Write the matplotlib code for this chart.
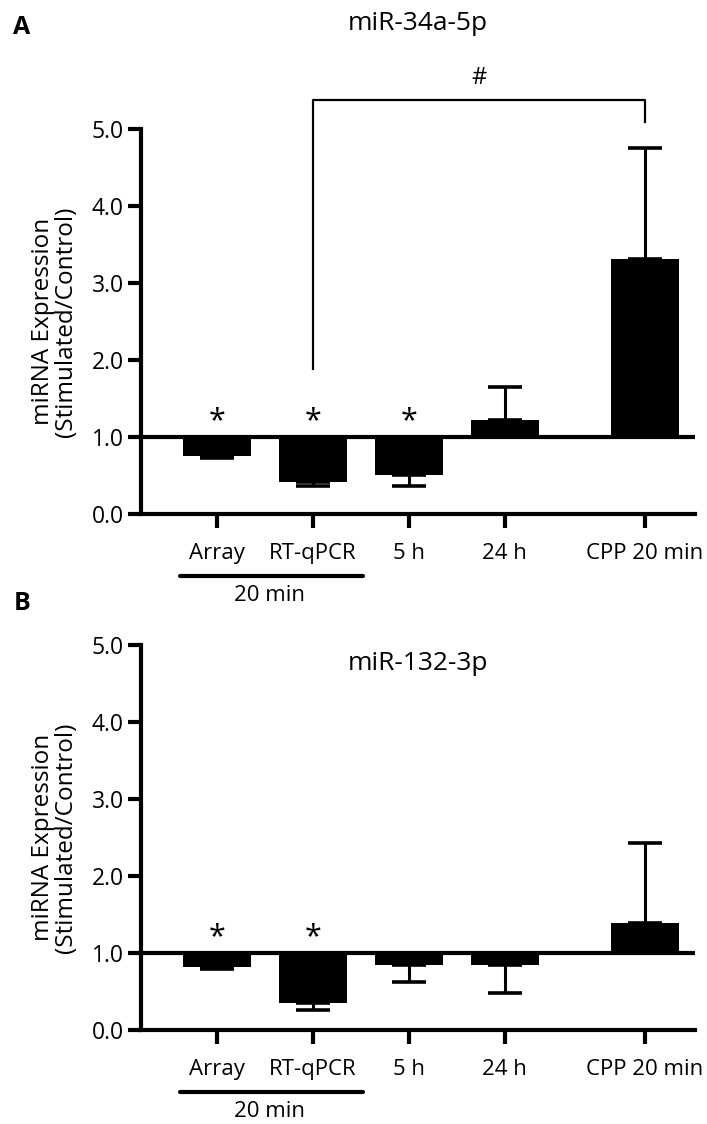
import matplotlib
matplotlib.use("Agg")
import matplotlib.pyplot as plt
import matplotlib.transforms as mtransforms

plt.rcParams['font.family'] = ['Open Sans', 'DejaVu Sans']

# data
groups = ["Array", "RT-qPCR", "5 h", "24 h", "CPP 20 min"]
xpos = [0, 1, 2, 3, 4.46]

mir34_mean = [0.75, 0.41, 0.51, 1.22, 3.31]
mir34_sem = [0.02, 0.05, 0.15, 0.43, 1.44]
mir34_stars = [True, True, True, False, False]

mir132_mean = [0.82, 0.35, 0.84, 0.84, 1.39]
mir132_sem = [0.03, 0.09, 0.22, 0.36, 1.04]
mir132_stars = [True, True, False, False, False]

W, H = 707, 1124
fig = plt.figure(figsize=(W / 100, H / 100), dpi=100)


def panel(top_px, mean, sem, stars, title, title_inside):
    bottom_px = top_px + 385
    ax = fig.add_axes([141 / W, 1 - bottom_px / H, 554 / W, 385 / H])
    ax.set_xlim(-0.79, 4.98)
    ax.set_ylim(0, 5.0)

    # bars grow from the 1.0 reference line
    heights = [m - 1 for m in mean]
    ax.bar(xpos, heights, bottom=1, width=0.71, color='black', zorder=3)
    lower = [s if m < 1 else 0 for m, s in zip(mean, sem)]
    upper = [s if m >= 1 else 0 for m, s in zip(mean, sem)]
    ax.errorbar(xpos, mean, yerr=[lower, upper], fmt='none', ecolor='black',
                elinewidth=2.2, capsize=12.5, capthick=2.6, zorder=2)
    ax.axhline(1, color='black', lw=3, zorder=4)

    for x, s in zip(xpos, stars):
        if s:
            ax.text(x, 1.2, "*", ha='center', va='center', fontsize=22)

    for side in ['top', 'right']:
        ax.spines[side].set_visible(False)
    for side in ['left', 'bottom']:
        ax.spines[side].set_linewidth(3)
    ax.set_yticks([0, 1, 2, 3, 4, 5])
    ax.set_yticklabels(["0.0", "1.0", "2.0", "3.0", "4.0", "5.0"], fontsize=16.5)
    ax.set_xticks(xpos)
    ax.set_xticklabels(groups, fontsize=16)
    ax.tick_params(axis='y', length=9.5, width=3, pad=3)
    ax.tick_params(axis='x', length=10, width=3, pad=11)
    ax.set_ylabel("miRNA Expression\n(Stimulated/Control)", fontsize=17.5,
                  linespacing=0.95, labelpad=10)

    # "20 min" grouping line under the first two labels
    trans = mtransforms.blended_transform_factory(ax.transData, ax.transAxes)
    ax.plot([-0.385, 1.52], [-0.161, -0.161], color='black', lw=3,
            transform=trans, clip_on=False, solid_capstyle='round')
    ax.text(0.55, -0.212, "20 min", ha='center', va='center', fontsize=16,
            transform=trans)

    ty = 1.275 if not title_inside else 0.953
    ax.text(0.5, ty, title, ha='center', va='center', fontsize=19,
            transform=ax.transAxes)
    return ax


ax1 = panel(129, mir34_mean, mir34_sem, mir34_stars, "miR-34a-5p", False)
ax2 = panel(645, mir132_mean, mir132_sem, mir132_stars, "miR-132-3p", True)

# significance bracket between RT-qPCR and CPP 20 min
ax1.plot([xpos[1], xpos[1], xpos[4], xpos[4]], [1.88, 5.38, 5.38, 5.09],
         color='black', lw=1.6, clip_on=False)
ax1.text((xpos[1] + xpos[4]) / 2, 5.66, "#", ha='center', va='center',
         fontsize=17)

fig.text(22 / W, 1 - 28 / H, "A", fontsize=18, fontweight='bold',
         ha='center', va='center')
fig.text(22 / W, 1 - 603 / H, "B", fontsize=18, fontweight='bold',
         ha='center', va='center')

fig.savefig("out.png", dpi=100)
